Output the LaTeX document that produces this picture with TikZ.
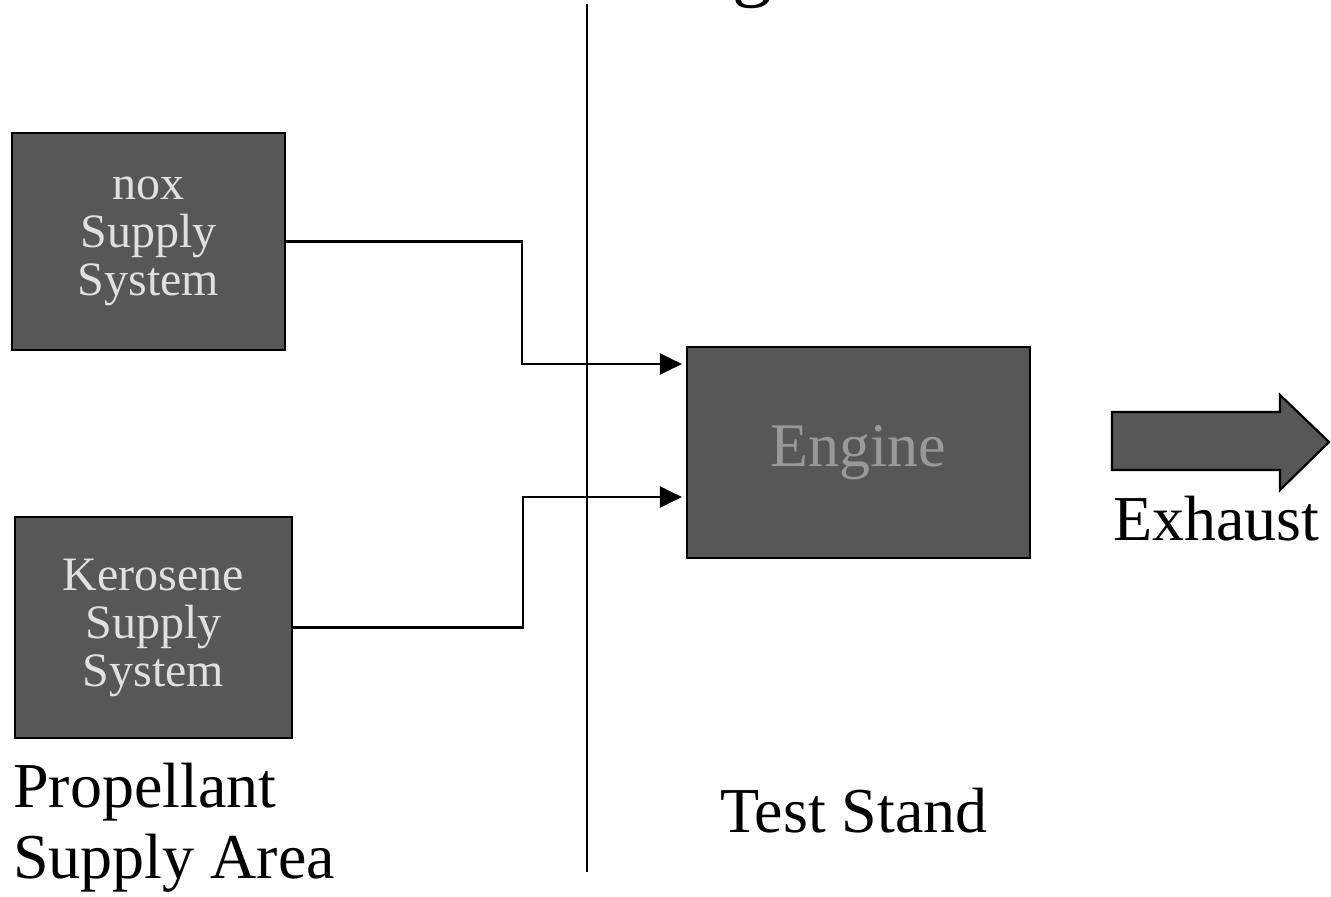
\documentclass[tikz,border=0pt]{standalone}
\usepackage{fontspec}
\setmainfont{Liberation Serif}
\usetikzlibrary{arrows.meta}
\begin{document}
\begin{tikzpicture}[x=1pt,y=-1pt,
  blk/.style={draw=black, line width=2.2pt, fill=black!66, text=white!88!black,
    inner sep=0pt, align=center, font=\fontsize{48}{48}\selectfont},
  conn/.style={line width=2.5pt, shorten >=4pt, -{Triangle[length=22pt,width=21pt]}},
  lbl/.style={inner sep=0pt, anchor=base west, font=\fontsize{64}{64}\selectfont},
  divider/.style={line width=2pt},
]
\useasboundingbox (0,0) rectangle (1331,897);
\begin{scope}
  \clip (0,0) rectangle (1331,897);
  \node[inner sep=0pt, anchor=base, font=\fontsize{80}{80}\selectfont] (ttl) at (752,-9) {g};
\end{scope}

\node[blk, minimum width=273pt, minimum height=217pt] (nox) at (148.5,241.5) {nox\\Supply\\System};
\node[blk, minimum width=277pt, minimum height=221pt] (kero) at (153.5,627.5) {Kerosene\\Supply\\System};
\node[blk, minimum width=343pt, minimum height=211pt, text=black!40, font=\fontsize{62}{62}\selectfont] (engine) at (858.5,452.5) {Engine};

\coordinate (dtop) at (587,4);
\coordinate (dbot) at (587,872);
\draw[divider] (dtop) -- (dbot);

\coordinate (n1) at (522,364);
\draw[conn] (nox.east) -| (n1) -- (n1 -| engine.west);
\coordinate (k1) at (523,497);
\draw[conn] (kero.east) -| (k1) -- (k1 -| engine.west);

\draw[line width=2.2pt, fill=black!66] (1112,412) -- (1280,412) -- (1280,395) -- (1329,442)
  -- (1280,490) -- (1280,470) -- (1112,470) -- cycle;

\node[lbl] (exh) at (1113,540) {Exhaust};
\node[lbl] (ts) at (720,832) {Test Stand};
\node[lbl] (psa1) at (13,807) {Propellant};
\node[lbl] (psa2) at (13,878) {Supply Area};
\end{tikzpicture}
\end{document}
